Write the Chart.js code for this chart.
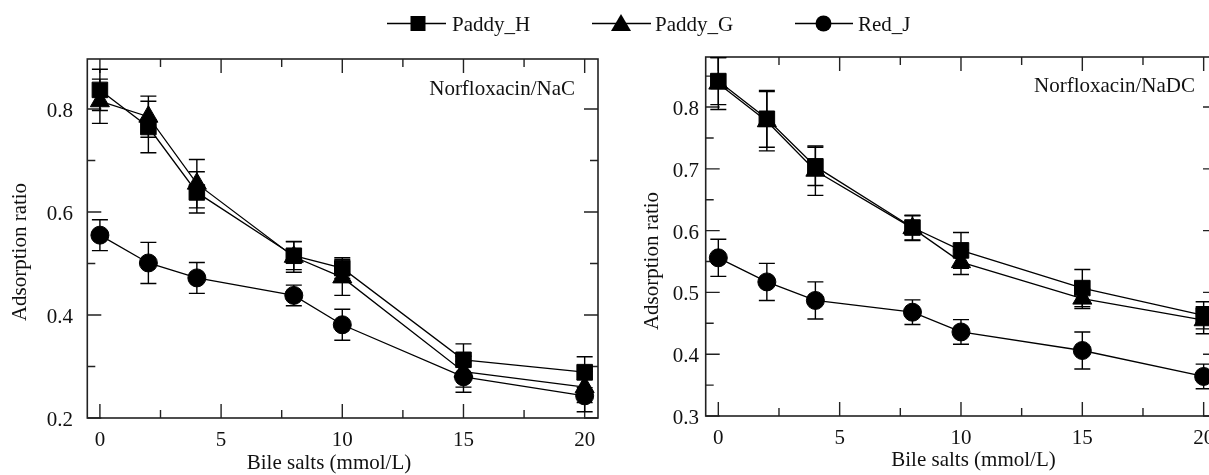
<!DOCTYPE html>
<html>
<head>
<meta charset="utf-8">
<script src="https://cdn.jsdelivr.net/npm/chart.js@4/dist/chart.umd.min.js"></script>
<style>
  html, body { margin: 0; padding: 0; background: #fff; overflow: hidden; }
  #wrap { position: relative; width: 1209px; height: 475px; overflow: hidden;
          font-family: "Liberation Serif", "Times New Roman", serif; color: #111; }
  #left { position: absolute; left: 0; top: 0; }
  #right { position: absolute; left: 609px; top: 0; }
  .sym { position: absolute; top: 12px; }
  .lbl { position: absolute; top: 14px; font-size: 21px; line-height: 21px; white-space: nowrap; }
</style>
</head>
<body>
<div id="wrap">
  <canvas id="left" width="610" height="475"></canvas>
  <canvas id="right" width="620" height="475"></canvas>
  <svg class="sym" style="left:387px" width="59" height="23"><line x1="0" y1="11.5" x2="59" y2="11.5" stroke="#000" stroke-width="1.4"/><rect x="23.5" y="4" width="15" height="15" fill="#000"/></svg>
  <span class="lbl" style="left:452px">Paddy_H</span>
  <svg class="sym" style="left:592px" width="59" height="23"><line x1="0" y1="11.5" x2="59" y2="11.5" stroke="#000" stroke-width="1.4"/><polygon points="29,2 39,19 19,19" fill="#000"/></svg>
  <span class="lbl" style="left:655px">Paddy_G</span>
  <svg class="sym" style="left:795px" width="58" height="23"><line x1="0" y1="11.5" x2="58" y2="11.5" stroke="#000" stroke-width="1.4"/><circle cx="28.5" cy="11.5" r="8" fill="#000"/></svg>
  <span class="lbl" style="left:858px">Red_J</span>
</div>
<script>
// bile salt concentrations (mmol/L)
const DOSES = [0, 2, 4, 8, 10, 15, 20];

// Norfloxacin / NaC
const NAC_PADDY_H = [0.837, 0.765, 0.638, 0.515, 0.491, 0.313, 0.289];
const NAC_PADDY_H_ERR = [0.04, 0.05, 0.04, 0.027, 0.02, 0.031, 0.03];
const NAC_PADDY_G = [0.815, 0.785, 0.655, 0.513, 0.473, 0.29, 0.26];
const NAC_PADDY_G_ERR = [0.043, 0.04, 0.047, 0.03, 0.035, 0.03, 0.03];
const NAC_RED_J = [0.555, 0.501, 0.472, 0.438, 0.381, 0.28, 0.243];
const NAC_RED_J_ERR = [0.03, 0.04, 0.03, 0.02, 0.03, 0.03, 0.031];

// Norfloxacin / NaDC
const NADC_PADDY_H = [0.842, 0.781, 0.704, 0.605, 0.568, 0.507, 0.463];
const NADC_PADDY_H_ERR = [0.038, 0.046, 0.031, 0.02, 0.029, 0.03, 0.022];
const NADC_PADDY_G = [0.838, 0.777, 0.697, 0.604, 0.549, 0.49, 0.455];
const NADC_PADDY_G_ERR = [0.042, 0.048, 0.04, 0.02, 0.02, 0.016, 0.022];
const NADC_RED_J = [0.556, 0.517, 0.487, 0.468, 0.436, 0.406, 0.364];
const NADC_RED_J_ERR = [0.03, 0.03, 0.03, 0.02, 0.02, 0.03, 0.02];

const X_TICKS = [0, 5, 10, 15, 20];
const X_MINOR = [2.5, 7.5, 12.5, 17.5];
const NAC_Y_TICKS = [0.2, 0.4, 0.6, 0.8];
const NAC_Y_MINOR = [0.3, 0.5, 0.7];
const NADC_Y_TICKS = [0.3, 0.4, 0.5, 0.6, 0.7, 0.8];
const NADC_Y_MINOR = [0.35, 0.45, 0.55, 0.65, 0.75, 0.85];

const X_TITLE = 'Bile salts (mmol/L)';
const Y_TITLE = 'Adsorption ratio';

const INK = '#111';
const FONT = { family: '"Liberation Serif", "Times New Roman", serif', size: 21 };

const toPoints = (vals) => DOSES.map((d, i) => ({ x: d, y: vals[i] }));

// box frame with inward ticks on all four sides
const frameTicks = {
  id: 'frameTicks',
  beforeDatasetsDraw(chart) {
    const { ctx, chartArea: a, scales: { x, y } } = chart;
    const o = chart.options.plugins.frameTicks;
    ctx.save();
    ctx.strokeStyle = '#222';
    ctx.lineWidth = 1.6;
    ctx.strokeRect(a.left, a.top, a.right - a.left, a.bottom - a.top);
    ctx.lineWidth = 1.4;
    const xt = (vals, len) => vals.forEach((v) => {
      const px = x.getPixelForValue(v);
      ctx.beginPath();
      ctx.moveTo(px, a.bottom); ctx.lineTo(px, a.bottom - len);
      ctx.moveTo(px, a.top); ctx.lineTo(px, a.top + len);
      ctx.stroke();
    });
    const yt = (vals, len) => vals.forEach((v) => {
      const py = y.getPixelForValue(v);
      ctx.beginPath();
      ctx.moveTo(a.left, py); ctx.lineTo(a.left + len, py);
      ctx.moveTo(a.right, py); ctx.lineTo(a.right - len, py);
      ctx.stroke();
    });
    xt(X_TICKS, 14);
    xt(X_MINOR, 8);
    yt(o.yMajor, 14);
    yt(o.yMinor, 8);
    ctx.restore();
  },
};

const errorBars = {
  id: 'errorBars',
  afterDatasetsDraw(chart) {
    const { ctx, scales: { x, y } } = chart;
    ctx.save();
    ctx.strokeStyle = '#000';
    ctx.lineWidth = 1.4;
    chart.data.datasets.forEach((ds) => {
      ds.data.forEach((p, j) => {
        const e = ds.errors[j];
        const px = x.getPixelForValue(p.x);
        const top = y.getPixelForValue(p.y + e);
        const bot = y.getPixelForValue(p.y - e);
        ctx.beginPath();
        ctx.moveTo(px, top); ctx.lineTo(px, bot);
        ctx.moveTo(px - 8, top); ctx.lineTo(px + 8, top);
        ctx.moveTo(px - 8, bot); ctx.lineTo(px + 8, bot);
        ctx.stroke();
      });
    });
    ctx.restore();
  },
};

// tick labels, axis titles and the panel note
const texts = {
  id: 'texts',
  afterDraw(chart) {
    const o = chart.options.plugins.texts;
    const { ctx, chartArea: a, scales: { x, y } } = chart;
    ctx.save();
    ctx.font = `${FONT.size}px ${FONT.family}`;
    ctx.fillStyle = INK;
    ctx.textBaseline = 'alphabetic';
    ctx.textAlign = 'center';
    x.ticks.forEach((t) => ctx.fillText(String(t.value), x.getPixelForValue(t.value), a.bottom + 28));
    ctx.textAlign = 'right';
    y.ticks.forEach((t) => ctx.fillText(t.value.toFixed(1), o.yLabelRight, y.getPixelForValue(t.value) + 8));
    ctx.textAlign = 'center';
    ctx.fillText(X_TITLE, o.xTitleX, o.xTitleBase);
    ctx.save();
    ctx.translate(o.yTitleX, o.yTitleY);
    ctx.rotate(-Math.PI / 2);
    ctx.textBaseline = 'middle';
    ctx.fillText(Y_TITLE, 0, 0);
    ctx.restore();
    ctx.textAlign = 'right';
    ctx.fillText(o.note, o.noteRight, o.noteBase);
    ctx.restore();
  },
};

function series(label, vals, errs, style, radius) {
  return {
    label,
    data: toPoints(vals),
    errors: errs,
    borderColor: '#000',
    borderWidth: 1.3,
    backgroundColor: '#000',
    pointStyle: style,
    pointRadius: radius,
    pointBackgroundColor: '#000',
    pointBorderColor: '#000',
    pointBorderWidth: 1,
    tension: 0,
  };
}

function makeChart(id, cfg) {
  return new Chart(document.getElementById(id), {
    type: 'line',
    data: {
      datasets: [
        series('Red_J', cfg.red, cfg.redErr, 'circle', 9),
        series('Paddy_G', cfg.g, cfg.gErr, 'triangle', 11),
        series('Paddy_H', cfg.h, cfg.hErr, 'rect', 11),
      ],
    },
    options: {
      responsive: false,
      animation: false,
      layout: { padding: { top: cfg.top, right: cfg.right, left: 0, bottom: 0 } },
      plugins: {
        legend: { display: false },
        tooltip: { enabled: false },
        frameTicks: { yMajor: cfg.yTicks, yMinor: cfg.yMinor },
        texts: cfg.text,
      },
      scales: {
        x: {
          type: 'linear',
          min: -0.52,
          max: 20.55,
          grid: { display: false, drawTicks: false },
          border: { display: false },
          afterBuildTicks: (s) => { s.ticks = X_TICKS.map((v) => ({ value: v })); },
          afterFit: (s) => { s.height = cfg.xHeight; },
          ticks: { display: false },
        },
        y: {
          min: cfg.yMin,
          max: cfg.yMax,
          grid: { display: false, drawTicks: false },
          border: { display: false },
          afterBuildTicks: (s) => { s.ticks = cfg.yTicks.map((v) => ({ value: v })); },
          afterFit: (s) => { s.width = cfg.yWidth; },
          ticks: { display: false },
        },
      },
    },
    plugins: [frameTicks, errorBars, texts],
  });
}

makeChart('left', {
  h: NAC_PADDY_H, hErr: NAC_PADDY_H_ERR,
  g: NAC_PADDY_G, gErr: NAC_PADDY_G_ERR,
  red: NAC_RED_J, redErr: NAC_RED_J_ERR,
  yMin: 0.2, yMax: 0.897, yTicks: NAC_Y_TICKS, yMinor: NAC_Y_MINOR,
  top: 59, right: 9.3, xHeight: 57, yWidth: 87.3,
  text: { yLabelRight: 73, xTitleX: 329, xTitleBase: 469, yTitleX: 20, yTitleY: 252,
          note: 'Norfloxacin/NaC', noteRight: 575, noteBase: 95 },
});

makeChart('right', {
  h: NADC_PADDY_H, hErr: NADC_PADDY_H_ERR,
  g: NADC_PADDY_G, gErr: NADC_PADDY_G_ERR,
  red: NADC_RED_J, redErr: NADC_RED_J_ERR,
  yMin: 0.3, yMax: 0.881, yTicks: NADC_Y_TICKS, yMinor: NADC_Y_MINOR,
  top: 57, right: 10.4, xHeight: 59, yWidth: 96.7,
  text: { yLabelRight: 90, xTitleX: 364.5, xTitleBase: 466, yTitleX: 43, yTitleY: 261,
          note: 'Norfloxacin/NaDC', noteRight: 586, noteBase: 92 },
});
</script>
</body>
</html>
